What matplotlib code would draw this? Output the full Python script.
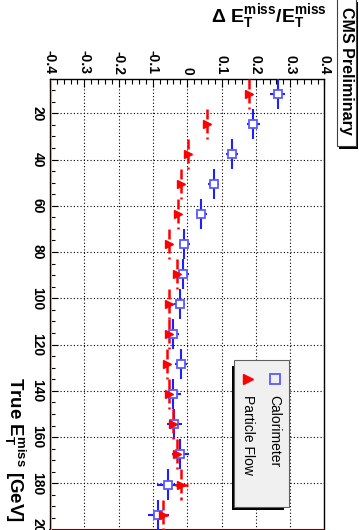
import matplotlib
matplotlib.use('Agg')
import matplotlib.pyplot as plt
from matplotlib.patches import Rectangle
from matplotlib.ticker import MultipleLocator
from matplotlib.lines import Line2D

plt.rcParams['font.family'] = ['Liberation Sans', 'DejaVu Sans']
plt.rcParams['mathtext.fontset'] = 'custom'
plt.rcParams['mathtext.rm'] = 'Liberation Sans:bold'
plt.rcParams['mathtext.it'] = 'Liberation Sans:bold'
plt.rcParams['mathtext.bf'] = 'Liberation Sans:bold'

# ---- data ----
true_met = [11.5, 24.5, 37.5, 50.5, 63.5, 76.5, 89.5, 102.5, 115.5, 128.5,
            141.5, 154.5, 167.5, 180.5, 193.5]
bin_halfwidth = [6.5] * 15
calo_resp = [0.264, 0.193, 0.130, 0.077, 0.041, -0.008, -0.011, -0.022, -0.042,
             -0.018, -0.040, -0.038, -0.020, -0.056, -0.084]
calo_err = [0.022, 0.019, 0.017, 0.017, 0.016, 0.017, 0.017, 0.016, 0.018,
            0.018, 0.022, 0.022, 0.024, 0.032, 0.030]
pf_resp = [0.181, 0.059, 0.002, -0.017, -0.028, -0.054, -0.030, -0.052, -0.053,
           -0.059, -0.054, -0.042, -0.030, -0.017, -0.071]
pf_err = [0.008, 0.008, 0.008, 0.008, 0.008, 0.009, 0.009, 0.010, 0.010,
          0.010, 0.011, 0.012, 0.014, 0.020, 0.016]
x_ticks = [-0.4, -0.3, -0.2, -0.1, 0, 0.1, 0.2, 0.3, 0.4]
x_ticklabels = ['-0.4', '-0.3', '-0.2', '-0.1', '0', '0.1', '0.2', '0.3', '0.4']
y_ticks = [20, 40, 60, 80, 100, 120, 140, 160, 180, 200]
y_ticklabels = ['20', '40', '60', '80', '100', '120', '140', '160', '180', '200']
legend_labels = ['Calorimeter', 'Particle Flow']

W, H = 359, 530
fig = plt.figure(figsize=(W / 100, H / 100), dpi=100)


def fx(px):
    return px / W


def fy(py):
    return 1 - py / H


ax_left, ax_right, ax_top, ax_bot = 50, 324.4, 78.6, 529.6
ax = fig.add_axes([fx(ax_left), fy(ax_bot), (ax_right - ax_left) / W, (ax_bot - ax_top) / H])

# calorimeter
ax.errorbar(calo_resp, true_met, xerr=calo_err, yerr=bin_halfwidth, fmt='none',
            ecolor='#2020ff', elinewidth=1.5, capsize=0, zorder=3)
ax.plot(calo_resp, true_met, 's', ms=6.3, mfc='white', mec='#5a5aff', mew=1.3,
        zorder=5, linestyle='none')
# particle flow
eb = ax.errorbar(pf_resp, true_met, xerr=pf_err, yerr=bin_halfwidth, fmt='none',
                 ecolor='#ff0000', elinewidth=1.8, capsize=0, zorder=4)
eb[2][1].set_linestyle((0, (4, 1.6)))
ax.plot(pf_resp, true_met, '>', ms=6, color='#ff0000', mec='#ff0000',
        zorder=6, linestyle='none')

ax.set_xlim(-0.4, 0.4)
ax.set_ylim(200, 5)
ax.set_xticks(x_ticks)
ax.set_xticklabels(x_ticklabels)
ax.set_yticks(y_ticks)
ax.set_yticklabels(y_ticklabels)
ax.xaxis.set_minor_locator(MultipleLocator(0.02))
ax.yaxis.set_minor_locator(MultipleLocator(5))
ax.xaxis.tick_top()
ax.tick_params(axis='x', which='both', direction='in', top=True, bottom=False,
               labeltop=True, labelbottom=False, labelrotation=-90, pad=3)
ax.tick_params(axis='y', which='both', direction='in', left=True, right=False,
               labelrotation=-90, pad=4)
ax.tick_params(which='major', length=6, width=0.8)
ax.tick_params(which='minor', length=3.5, width=0.8)
for lab in ax.get_xticklabels() + ax.get_yticklabels():
    lab.set_fontsize(10)
    lab.set_fontweight('bold')
for lab in ax.get_yticklabels():
    lab.set_va('center')
ax.grid(True, which='major', color='black', linestyle=(0, (1, 2)), linewidth=0.8)
for s in ax.spines.values():
    s.set_linewidth(1.0)
ax.spines['bottom'].set_color('#7a0000')
ax.spines['bottom'].set_linewidth(1.5)
fig.add_artist(Line2D([fx(51.2), fx(51.2)], [fy(80), fy(530)], color='#ff9090', lw=0.8))

# axis titles
fig.text(fx(327), fy(2), r'$\Delta\ \mathrm{E}_{\mathrm{T}}^{\mathrm{miss}}/\mathrm{E}_{\mathrm{T}}^{\mathrm{miss}}$',
         ha='right', va='top', fontsize=14)
fig.text(fx(15), fy(377), r'True $\mathrm{E}_{\mathrm{T}}^{\mathrm{miss}}$ [GeV]', rotation=-90,
         ha='center', va='top', fontsize=13.5, fontweight='bold')

# CMS Preliminary box
fig.add_artist(Rectangle((fx(339), fy(149)), fx(358) - fx(339), fy(2) - fy(149),
                         facecolor='black', edgecolor='none'))
fig.add_artist(Rectangle((fx(336.5), fy(146)), fx(355.5) - fx(336.5), fy(-2) - fy(146),
                         facecolor='white', edgecolor='#404040', linewidth=0.8))
fig.text(fx(346.5), fy(7), 'CMS Preliminary', rotation=-90, ha='center', va='top',
         fontsize=11.5, fontweight='bold')

# legend box
fig.add_artist(Rectangle((fx(231.5), fy(510)), fx(283.5) - fx(231.5), fy(366) - fy(510),
                         facecolor='black', edgecolor='none'))
fig.add_artist(Rectangle((fx(234), fy(507)), fx(289) - fx(234), fy(360) - fy(507),
                         facecolor='#f0f0f0', edgecolor='#606060', linewidth=0.8))
fig.add_artist(Line2D([fx(248)], [fy(379)], marker='>', ms=7, color='#ff0000',
                      linestyle='none'))
fig.add_artist(Line2D([fx(275)], [fy(379)], marker='s', ms=7, mfc='none', mec='#5a5aff',
                      mew=1.3, linestyle='none'))
fig.text(fx(274), fy(395), legend_labels[0], rotation=-90, ha='center', va='top', fontsize=10)
fig.text(fx(247.5), fy(395), legend_labels[1], rotation=-90, ha='center', va='top', fontsize=10)

fig.savefig('out.png', dpi=100)
